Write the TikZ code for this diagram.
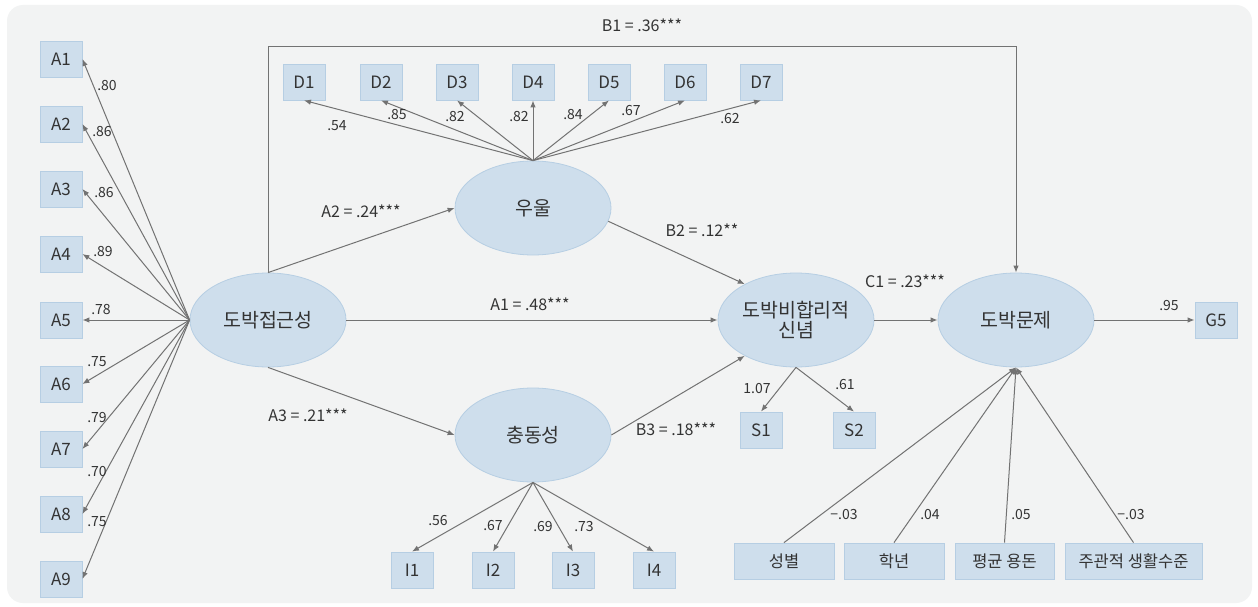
\documentclass[tikz,border=0pt]{standalone}
\usepackage{fontspec}
\setmainfont{Noto Sans CJK KR}
\usetikzlibrary{arrows.meta,shapes.geometric}
\definecolor{bg}{HTML}{F2F3F3}
\definecolor{boxfill}{HTML}{CEDEEC}
\definecolor{boxline}{HTML}{B6CEE3}
\definecolor{lineg}{HTML}{727272}
\definecolor{txt}{HTML}{333333}
\begin{document}
\begin{tikzpicture}[x=1pt,y=-1pt,
 obs/.style={draw=boxline, fill=boxfill, line width=0.8pt, minimum width=42pt, minimum height=36pt, inner sep=0pt, font=\fontsize{17}{20}\selectfont, text=txt},
 ctl/.style={obs, minimum height=36pt, font=\fontsize{16.5}{20}\selectfont},
 lat/.style={ellipse, draw=boxline, fill=boxfill, line width=0.8pt, minimum width=156pt, minimum height=94pt, inner sep=0pt, font=\fontsize{19.5}{23}\selectfont, text=txt, align=center},
 arr/.style={draw=lineg, line width=1pt, -{Latex[length=7pt,width=5.5pt]}},
 lbl/.style={font=\fontsize{14}{16}\selectfont, text=txt, inner sep=0pt},
 plbl/.style={font=\fontsize{16}{19}\selectfont, text=txt, inner sep=0pt},
]
\useasboundingbox (0,0) rectangle (1258,607);
\fill[white] (0,0) rectangle (1258,607);
\fill[bg, rounded corners=16pt] (7,5) rectangle (1252,603);

% latent variables
\node[lat] (acc) at (268,320) {도박접근성};
\node[lat] (dep) at (533,208) {우울};
\node[lat] (imp) at (533,435) {충동성};
\node[lat] (irr) at (796,320) {도박비합리적\\[-3pt]신념};
\node[lat] (prob) at (1016,320) {도박문제};

% A indicators
\foreach \i/\y in {1/59,2/124,3/189,4/254,5/320,6/384,7/449,8/514,9/579}
  \node[obs] (A\i) at (61,\y) {A\i};
% D indicators
\foreach \i/\x in {1/304,2/381,3/457,4/533,5/609,6/685,7/761}
  \node[obs] (D\i) at (\x,82) {D\i};
% I indicators
\foreach \i/\x in {1/412,2/493,3/573,4/654}
  \node[obs] (I\i) at (\x,570) {I\i};
\node[obs] (S1) at (761,430) {S1};
\node[obs] (S2) at (854,430) {S2};
\node[obs] (G5) at (1216,320) {G5};

% controls
\node[ctl, minimum width=100pt] (c1) at (784,561) {성별};
\node[ctl, minimum width=100pt] (c2) at (894,561) {학년};
\node[ctl, minimum width=99pt] (c3) at (1004.5,561) {평균 용돈};
\node[ctl, minimum width=137pt] (c4) at (1133.5,561) {주관적 생활수준};

% loadings A
\foreach \i in {1,...,9} \draw[arr] (acc.west) -- (A\i.east);
\node[lbl] (la1) at (107,86) {.80};
\node[lbl] (la2) at (102,132) {.86};
\node[lbl] (la3) at (104,193) {.86};
\node[lbl] (la4) at (103,252) {.89};
\node[lbl] (la5) at (101,310) {.78};
\node[lbl] (la6) at (97,362) {.75};
\node[lbl] (la7) at (97,418) {.79};
\node[lbl] (la8) at (97,472) {.70};
\node[lbl] (la9) at (97,522) {.75};

% loadings D
\foreach \i in {1,...,7} \draw[arr] (dep.north) -- (D\i.south);
\node[lbl] (ld1) at (337,126) {.54};
\node[lbl] (ld2) at (397,115) {.85};
\node[lbl] (ld3) at (455,117) {.82};
\node[lbl] (ld4) at (519,117) {.82};
\node[lbl] (ld5) at (573,115) {.84};
\node[lbl] (ld6) at (631,111) {.67};
\node[lbl] (ld7) at (730,119) {.62};

% loadings I
\foreach \i in {1,...,4} \draw[arr] (imp.south) -- (I\i.north);
\node[lbl] (li1) at (438,521) {.56};
\node[lbl] (li2) at (493,526) {.67};
\node[lbl] (li3) at (543,527) {.69};
\node[lbl] (li4) at (584,527) {.73};

% loadings S
\draw[arr] (irr.south) -- (S1.north);
\draw[arr] (irr.south) -- (S2.north);
\node[lbl] (ls1) at (757,389) {1.07};
\node[lbl] (ls2) at (845,385) {.61};

% G5
\draw[arr] (prob.east) -- (G5.west);
\node[lbl] (lg) at (1169,306) {.95};

% controls
\foreach \i in {1,...,4} \draw[arr] (c\i.north) -- (prob.south);
\node[lbl] (lc1) at (844,515) {−.03};
\node[lbl] (lc2) at (930,515) {.04};
\node[lbl] (lc3) at (1021,515) {.05};
\node[lbl] (lc4) at (1131,515) {−.03};

% structural paths
\draw[arr] (acc.north) -- (dep.west);
\node[plbl] (pA2) at (361,211) {A2 = .24***};
\draw[arr] (acc.south) -- (imp.west);
\node[plbl] (pA3) at (308,415) {A3 = .21***};
\draw[arr] (acc.east) -- (irr.west);
\node[plbl] (pA1) at (530,304) {A1 = .48***};
\draw[arr] (dep.-10) -- (irr.145);
\node[plbl] (pB2) at (702,230) {B2 = .12**};
\draw[arr] (imp.east) -- (irr.215);
\node[plbl] (pB3) at (676,429) {B3 = .18***};
\draw[arr] (irr.east) -- (prob.west);
\node[plbl] (pC1) at (905,281) {C1 = .23***};
\draw[arr] (acc.north) -- ++(0,-226) -| (prob.north);
\node[plbl] (pB1) at (642,25) {B1 = .36***};
\end{tikzpicture}
\end{document}
